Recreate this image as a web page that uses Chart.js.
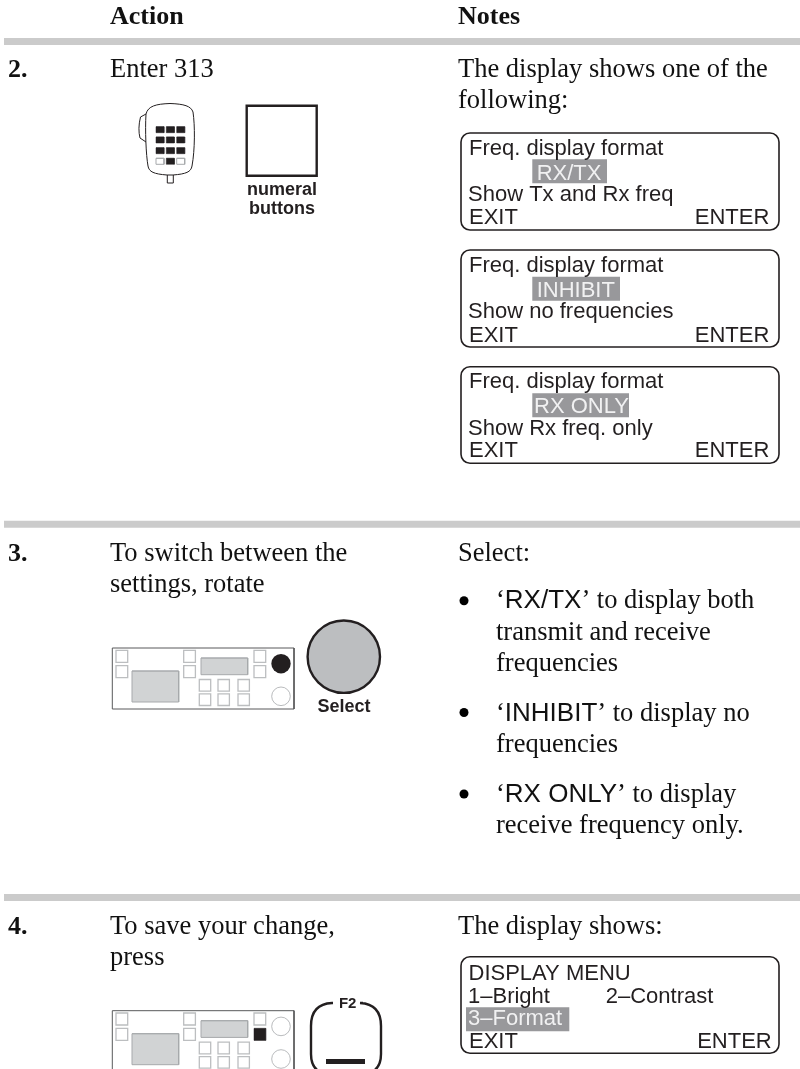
<!DOCTYPE html>
<html lang="en">
<head>
    <meta charset="UTF-8">
    <title>Freq. display format</title>
    <script src="https://cdn.jsdelivr.net/npm/chart.js"></script>
    <style>
        html, body { margin: 0; padding: 0; background: #fff; }
        canvas { display: block; }
    </style>
</head>
<body>
    <canvas id="page" width="800" height="1069"></canvas>

    <script>
        // Page positions, in page units (0-800 / 0-1069)
        var ruleRows = [41.5, 524.3, 897.5];

        var panelTops = [0, 362.7];
        var panelSquareX = [116, 183.7, 254];
        var panelSquareY = [650.3, 665.7];
        var panelButtonX = [199.3, 218, 238];
        var panelButtonY = [679.5, 693.9];

        var keyX = [156, 166.3, 176.7];
        var keyY = [126.7, 137, 147.7, 158.3];

        var displayTops = [133, 250, 366.7, 956.7];
        var displayBottoms = [230, 347, 463.3, 1053.3];

        var highlightLeft = [532.3, 532.3, 532.3, 466];
        var highlightRight = [607, 620, 629, 569.3];
        var highlightTop = [159.3, 276.7, 393.3, 1007.3];

        var bulletY = [600.7, 712.5, 794];

        var serifLines = [
            ['Enter 313', 110, 77], ['To switch between the', 110, 560.7], ['settings, rotate', 110, 591.7],
            ['To save your change,', 110, 933.7], ['press', 110, 965],
            ['The display shows one of the', 458, 77], ['following:', 458, 108],
            ['Select:', 458, 560.7],
            ['transmit and receive', 496, 640], ['frequencies', 496, 671],
            ['frequencies', 496, 752.3],
            ['receive frequency only.', 496, 833],
            ['The display shows:', 458, 933.7]
        ];
        var boldSerifLines = [
            ['Action', 110, 24], ['Notes', 458, 24], ['2.', 8, 77], ['3.', 8, 560.7], ['4.', 8, 933.7]
        ];
        var quotedLines = [
            ['RX/TX', ' to display both', 496, 608.3],
            ['INHIBIT', ' to display no', 496, 720.7],
            ['RX ONLY', ' to display', 496, 802]
        ];
        var displayLines = [
            ['Freq. display format', 469, 155], ['Show Tx and Rx freq', 468, 201], ['EXIT', 469, 224.3],
            ['Freq. display format', 469, 271.7], ['Show no frequencies', 468, 318.3], ['EXIT', 469, 341.7],
            ['Freq. display format', 469, 388.3], ['Show Rx freq. only', 468, 435], ['EXIT', 469, 457.3],
            ['DISPLAY MENU', 468.5, 980], ['1\u2013Bright', 468, 1003], ['2\u2013Contrast', 605.7, 1003], ['EXIT', 469, 1048.3]
        ];
        var enterLines = [[769.3, 224.3], [769.3, 341.7], [769.3, 457.3], [771.7, 1048.3]];
        var highlightLines = [
            ['RX/TX', 536.7, 180], ['INHIBIT', 536.7, 297.3], ['RX ONLY', 534, 413.3], ['3\u2013Format', 468, 1025]
        ];
        var captionLines = [
            ['numeral', 282, 195], ['buttons', 282, 214], ['Select', 344, 712]
        ];

        var SERIF = '"Liberation Serif"';
        var SANS = '"Liberation Sans"';
        var datasets = [];

        function box(x0, y0, x1, y1, fillColor, strokeColor, lineWidth) {
            datasets.push({
                data: [{x: x0, y: y0}, {x: x1, y: y0}, {x: x1, y: y1}, {x: x0, y: y1}, {x: x0, y: y0}, {x: x1, y: y0}],
                showLine: true,
                fill: fillColor ? 'shape' : false,
                backgroundColor: fillColor || 'transparent',
                borderColor: strokeColor || 'transparent',
                borderWidth: lineWidth || 0,
                pointRadius: 0,
                borderJoinStyle: 'miter'
            });
        }
        function line(points, color, lineWidth) {
            datasets.push({
                data: points,
                showLine: true,
                fill: false,
                borderColor: color,
                borderWidth: lineWidth,
                pointRadius: 0,
                borderCapStyle: 'butt'
            });
        }
        function dot(x, y, radius, fillColor, strokeColor, lineWidth) {
            datasets.push({
                data: [{x: x, y: y}],
                pointStyle: 'circle',
                pointRadius: radius,
                pointBackgroundColor: fillColor,
                pointBorderColor: strokeColor,
                pointBorderWidth: lineWidth
            });
        }

        // Section rules
        ruleRows.forEach(function (y) {
            line([{x: 4, y: y}, {x: 800, y: y}], '#cbcbcb', 7);
        });

        // Microphone keys
        keyY.forEach(function (y, row) {
            keyX.forEach(function (x, col) {
                if (row == 3 && col != 1) {
                    box(x, y, x + 8, y + 6, '#fff', '#a7a9ac', 1);
                } else {
                    box(x, y, x + 8, y + 6, '#231f20', '#231f20', 0.5);
                }
            });
        });

        // Numeral button square
        box(246.7, 105.7, 316.7, 175.7, '#fff', '#231f20', 2.4);

        // Front panels
        panelTops.forEach(function (dy, p) {
            line([{x: 112.3, y: 709 + dy}, {x: 112.3, y: 648 + dy}, {x: 294, y: 648 + dy}, {x: 294, y: 709 + dy}], '#58595b', 1);
            line([{x: 112.3, y: 709 + dy}, {x: 294, y: 709 + dy}], '#58595b', 1);
            panelSquareX.forEach(function (x, c) {
                panelSquareY.forEach(function (y, r) {
                    if (p == 1 && c == 2 && r == 1) {
                        box(x, y + dy, x + 11.7, y + 12 + dy, '#231f20', '#231f20', 0.5);
                    } else {
                        box(x, y + dy, x + 11.7, y + 12 + dy, '#fff', '#bcbec0', 1.3);
                    }
                });
            });
            box(132, 671 + dy, 178.7, 702 + dy, '#d1d3d4', '#a7a9ac', 1);
            box(201, 658 + dy, 247.7, 674.7 + dy, '#d1d3d4', '#a7a9ac', 1);
            panelButtonX.forEach(function (x) {
                panelButtonY.forEach(function (y) {
                    box(x, y + dy, x + 11.4, y + 11.6 + dy, '#fff', '#bcbec0', 1.3);
                });
            });
            dot(281, 696.3 + dy, 9.3, '#fff', '#a7a9ac', 0.8);
            if (p == 0) {
                dot(281, 663.7, 9.7, '#231f20', '#231f20', 0);
            } else {
                dot(281, 663.7 + dy, 9.3, '#fff', '#a7a9ac', 0.8);
            }
        });

        // Select knob
        dot(343.8, 656.7, 36.2, '#bcbec0', '#231f20', 2.4);

        // F2 key bar
        line([{x: 326, y: 1061.5}, {x: 365, y: 1061.5}], '#231f20', 5);

        // Grey highlights in the displays
        highlightLeft.forEach(function (x, i) {
            box(x, highlightTop[i], highlightRight[i], highlightTop[i] + 24, '#98989b', null, 0);
        });

        // Bullets
        bulletY.forEach(function (y) {
            dot(464, y, 4.5, '#000', '#000', 0);
        });

        var pagePlugin = {
            id: 'pagePlugin',
            beforeDatasetsDraw: function (chart) {
                var c = chart.ctx, sx = chart.scales.x, sy = chart.scales.y;
                function X(v) { return sx.getPixelForValue(v); }
                function Y(v) { return sy.getPixelForValue(v); }
                c.save();
                c.strokeStyle = '#231f20';

                // Display frames
                c.lineWidth = 1.6;
                displayTops.forEach(function (top, i) {
                    c.beginPath();
                    c.roundRect(X(461), Y(top), X(779) - X(461), Y(displayBottoms[i]) - Y(top), 9);
                    c.stroke();
                });

                // Microphone outline
                c.lineWidth = 1;
                c.fillStyle = '#fff';
                c.beginPath();
                c.moveTo(X(146), Y(114));
                c.bezierCurveTo(X(148), Y(106), X(156), Y(104), X(170), Y(103.5));
                c.bezierCurveTo(X(184), Y(104), X(191), Y(106), X(193), Y(112));
                c.bezierCurveTo(X(195), Y(125), X(195), Y(150), X(192), Y(166));
                c.bezierCurveTo(X(191), Y(172), X(186), Y(174), X(173), Y(175));
                c.lineTo(X(167), Y(175));
                c.bezierCurveTo(X(154), Y(174), X(149), Y(172), X(148), Y(166));
                c.bezierCurveTo(X(146), Y(155), X(145), Y(130), X(146), Y(114));
                c.stroke();
                c.beginPath();
                c.moveTo(X(146), Y(114));
                c.lineTo(X(140.5), Y(117));
                c.bezierCurveTo(X(138.5), Y(125), X(138.5), Y(132), X(140), Y(138));
                c.lineTo(X(146), Y(142));
                c.stroke();
                c.beginPath();
                c.moveTo(X(167.3), Y(175));
                c.lineTo(X(167.3), Y(183));
                c.lineTo(X(173.3), Y(183));
                c.lineTo(X(173.3), Y(175));
                c.stroke();

                // F2 key outline, open at the top for its label
                c.lineWidth = 2.4;
                c.beginPath();
                c.moveTo(X(333), Y(1003));
                c.lineTo(X(332), Y(1003));
                c.quadraticCurveTo(X(311), Y(1004), X(311), Y(1026));
                c.lineTo(X(311), Y(1054));
                c.quadraticCurveTo(X(311), Y(1074), X(332), Y(1075));
                c.lineTo(X(360), Y(1075));
                c.quadraticCurveTo(X(381), Y(1074), X(381), Y(1054));
                c.lineTo(X(381), Y(1026));
                c.quadraticCurveTo(X(381), Y(1004), X(360), Y(1003));
                c.lineTo(X(363), Y(1003));
                c.stroke();
                c.restore();
            },
            afterDatasetsDraw: function (chart) {
                var c = chart.ctx, sx = chart.scales.x, sy = chart.scales.y;
                function put(text, x, y) {
                    c.fillText(text, sx.getPixelForValue(x), sy.getPixelForValue(y));
                }
                c.save();
                c.textBaseline = 'alphabetic';

                c.fillStyle = '#111';
                c.font = '26.5px ' + SERIF;
                serifLines.forEach(function (t) { put(t[0], t[1], t[2]); });

                c.font = 'bold 26px ' + SERIF;
                boldSerifLines.forEach(function (t) { put(t[0], t[1], t[2]); });

                // Bullets mixing a serif sentence with a sans setting name
                quotedLines.forEach(function (t) {
                    var x = sx.getPixelForValue(t[2]), y = sy.getPixelForValue(t[3]);
                    c.font = '26.5px ' + SERIF;
                    c.fillText('\u2018', x, y);
                    x += c.measureText('\u2018').width;
                    c.font = '26px ' + SANS;
                    c.fillText(t[0], x, y);
                    x += c.measureText(t[0]).width;
                    c.font = '26.5px ' + SERIF;
                    c.fillText('\u2019' + t[1], x, y);
                });

                c.fillStyle = '#231f20';
                c.font = '22px ' + SANS;
                displayLines.forEach(function (t) { put(t[0], t[1], t[2]); });
                c.textAlign = 'right';
                enterLines.forEach(function (t) { put('ENTER', t[0], t[1]); });
                c.textAlign = 'left';

                c.fillStyle = '#f1f1f2';
                highlightLines.forEach(function (t) { put(t[0], t[1], t[2]); });

                c.fillStyle = '#231f20';
                c.textAlign = 'center';
                c.font = 'bold 18px ' + SANS;
                captionLines.forEach(function (t) { put(t[0], t[1], t[2]); });
                c.font = 'bold 15px ' + SANS;
                put('F2', 347.7, 1008);
                c.restore();
            }
        };

        new Chart(document.getElementById('page').getContext('2d'), {
            type: 'scatter',
            data: { datasets: datasets },
            options: {
                responsive: false,
                animation: false,
                layout: { padding: 0, autoPadding: false },
                plugins: { legend: { display: false }, tooltip: { enabled: false }, title: { display: false } },
                scales: {
                    x: { type: 'linear', min: 0, max: 800, display: false },
                    y: { type: 'linear', min: 0, max: 1069, reverse: true, display: false }
                }
            },
            plugins: [pagePlugin]
        });
    </script>
</body>
</html>
